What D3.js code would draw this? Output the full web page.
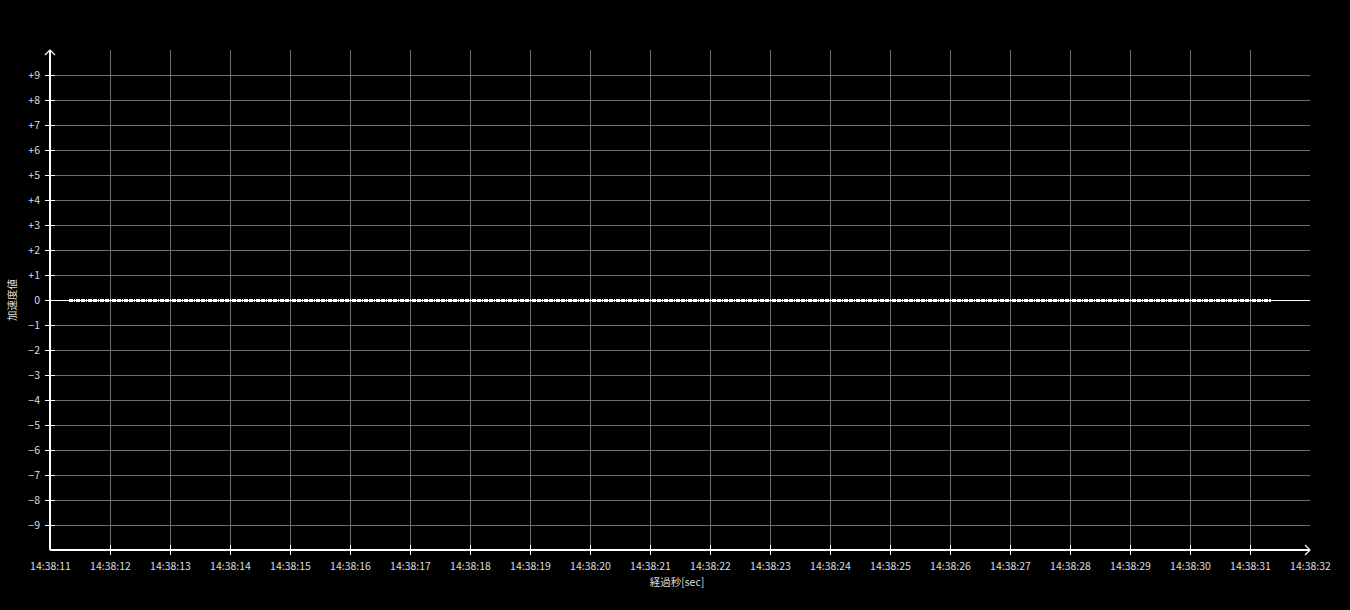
<!DOCTYPE html>
<html>
<head>
<meta charset="utf-8">
<script src="https://cdn.jsdelivr.net/npm/d3@7"></script>
<style>
  html, body { margin: 0; padding: 0; background: #000; }
  svg { display: block; }
  text { font-family: "Noto Sans CJK JP", "Noto Sans", sans-serif; fill: #ddd; }
</style>
</head>
<body>
<svg id="chart" width="1350" height="610"></svg>
<script>
// axis ticks
const yTicks = [-9, -8, -7, -6, -5, -4, -3, -2, -1, 0, 1, 2, 3, 4, 5, 6, 7, 8, 9];
const xTickLabels = ['14:38:11', '14:38:12', '14:38:13', '14:38:14', '14:38:15', '14:38:16', '14:38:17',
  '14:38:18', '14:38:19', '14:38:20', '14:38:21', '14:38:22', '14:38:23', '14:38:24', '14:38:25',
  '14:38:26', '14:38:27', '14:38:28', '14:38:29', '14:38:30', '14:38:31', '14:38:32'];

// recorded samples: first / last timestamp and sample period, every reading is 0
const sampleFirst = '14:38:11.330';
const sampleLast = '14:38:31.330';
const samplePeriodMs = 40;
const sampleValue = 0;

const yTitle = '加速度値';
const xTitle = '経過秒[sec]';

const parseTime = d3.timeParse('%H:%M:%S');
const parseMs = d3.timeParse('%H:%M:%S.%L');

const margin = { top: 50, right: 40, bottom: 60, left: 50 };
const width = 1350, height = 610;

const svg = d3.select('#chart');

const x = d3.scaleTime()
  .domain([parseTime(xTickLabels[0]), parseTime(xTickLabels[xTickLabels.length - 1])])
  .range([margin.left, width - margin.right]);

const y = d3.scaleLinear()
  .domain([-10, 10])
  .range([height - margin.bottom, margin.top]);

const tickTimes = xTickLabels.map(parseTime);

// gridlines
let grid = svg.append('g').attr('shape-rendering', 'crispEdges');

grid.selectAll('.hgrid')
  .data(yTicks.filter(d => d !== 0))
  .enter().append('line')
  .attr('x1', x.range()[0]).attr('x2', x.range()[1])
  .attr('y1', d => y(d)).attr('y2', d => y(d))
  .attr('stroke', '#6e6e6e');

grid.selectAll('.vgrid')
  .data(tickTimes.slice(1, -1))
  .enter().append('line')
  .attr('x1', d => x(d)).attr('x2', d => x(d))
  .attr('y1', y(10)).attr('y2', y(-10))
  .attr('stroke', '#6e6e6e');

// zero line
grid.append('line')
  .attr('x1', x.range()[0]).attr('x2', x.range()[1])
  .attr('y1', y(0)).attr('y2', y(0))
  .attr('stroke', '#fff');

// y axis
let yAxis = svg.append('g')
  .attr('transform', `translate(${x.range()[0]},0)`)
  .call(d3.axisLeft(y).tickValues(yTicks).tickSize(5)
    .tickFormat(d => d > 0 ? '+' + d : d3.format('d')(d)));
yAxis.select('.domain').remove();
yAxis.selectAll('.tick line').attr('stroke', '#fff').attr('x2', 5).attr('x1', -5).attr('shape-rendering', 'crispEdges');
yAxis.selectAll('.tick text').attr('x', -10).style('font-size', '10.5px')
  .style('font-family', '"Noto Sans CJK JP", sans-serif').attr('fill', '#ddd');

// x axis
let xAxis = svg.append('g')
  .attr('transform', `translate(0,${y(-10)})`)
  .call(d3.axisBottom(x).tickValues(tickTimes).tickSize(5)
    .tickFormat((d, i) => xTickLabels[i]));
xAxis.select('.domain').remove();
xAxis.selectAll('.tick line').attr('stroke', '#fff').attr('y1', -5).attr('y2', 5).attr('shape-rendering', 'crispEdges');
xAxis.selectAll('.tick').filter((d, i) => i === 0 || i === xTickLabels.length - 1).select('line').remove();
xAxis.selectAll('.tick text').attr('y', 13).style('font-size', '10.5px')
  .style('font-family', '"Noto Sans CJK JP", sans-serif').attr('fill', '#ddd');

// axis lines with arrow heads
let axes = svg.append('g').attr('stroke', '#fff').attr('fill', 'none').attr('stroke-width', 1.2);
axes.append('line').attr('shape-rendering', 'crispEdges')
  .attr('x1', x.range()[0]).attr('x2', x.range()[0])
  .attr('y1', y(-10)).attr('y2', y(10));
axes.append('line').attr('shape-rendering', 'crispEdges')
  .attr('x1', x.range()[0]).attr('x2', x.range()[1])
  .attr('y1', y(-10)).attr('y2', y(-10));
axes.append('path')
  .attr('d', `M${x.range()[0] - 5},${y(10) + 5} L${x.range()[0]},${y(10)} L${x.range()[0] + 5},${y(10) + 5}`);
axes.append('path')
  .attr('d', `M${x.range()[1] - 5},${y(-10) - 5} L${x.range()[1]},${y(-10)} L${x.range()[1] - 5},${y(-10) + 5}`);

// samples
const t0 = parseMs(sampleFirst).getTime();
const t1 = parseMs(sampleLast).getTime();
const samples = d3.range(t0, t1 + 1, samplePeriodMs).map(t => ({ time: new Date(t), value: sampleValue }));

svg.append('g')
  .attr('shape-rendering', 'crispEdges')
  .selectAll('rect')
  .data(samples)
  .enter().append('rect')
  .attr('x', d => x(d.time) - 1)
  .attr('y', d => y(d.value) - 1.5)
  .attr('width', 1.8)
  .attr('height', 3)
  .attr('fill', '#fff');

// axis titles
svg.append('text')
  .attr('x', (x.range()[0] + x.range()[1]) / 2 - 3)
  .attr('y', 586)
  .attr('text-anchor', 'middle')
  .style('font-size', '10.5px')
  .text(xTitle);

svg.append('text')
  .attr('transform', `translate(16,${y(0)}) rotate(-90)`)
  .attr('text-anchor', 'middle')
  .style('font-size', '10.5px')
  .text(yTitle);
</script>
</body>
</html>
